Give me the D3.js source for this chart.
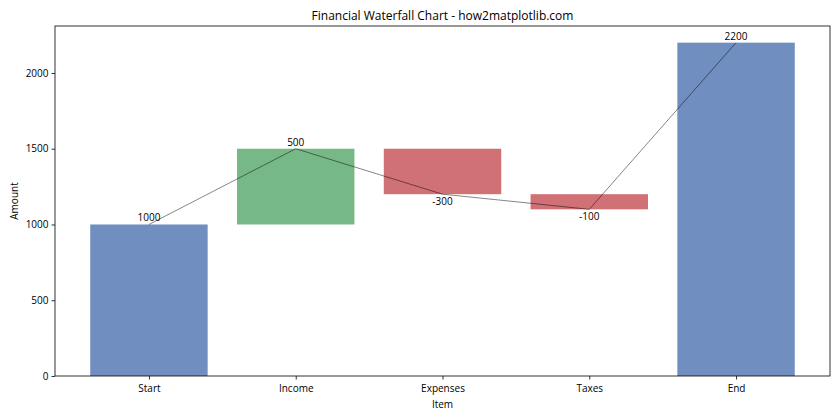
<!DOCTYPE html>
<html><head><meta charset="utf-8">
<script src="https://cdn.jsdelivr.net/npm/d3@7"></script>
<style>body{margin:0;background:#fff;} text{font-family:"Open Sans","Noto Sans",sans-serif;fill:#000;}</style>
</head><body>
<svg id="c" width="840" height="420"></svg>
<script>
const categories = ["Start","Income","Expenses","Taxes","End"];
const values = [1000, 500, -300, -100, 2200];
const bottoms = [0, 1000, 1200, 1100, 0];
const tops = [1000, 1500, 1500, 1200, 2200];
const cumulative = [1000, 1500, 1200, 1100, 2200];
const kinds = ["total","up","down","down","total"];
const yTicks = [0, 500, 1000, 1500, 2000];

const colors = {total:"#708ec0", up:"#77b986", down:"#d07175"};
const svg = d3.select("#c");
const L=55, R=830, T=26, B=376;
const x = d3.scaleLinear().domain([-0.64, 4.64]).range([L, R]);
const y = d3.scaleLinear().domain([0, 2310]).range([B, T]);
const bw = x(0.8) - x(0);

svg.append("g").selectAll("rect").data(categories).join("rect")
  .attr("x", (d,i)=>x(i)-bw/2).attr("width", bw)
  .attr("y", (d,i)=>y(tops[i])).attr("height", (d,i)=>y(bottoms[i])-y(tops[i]))
  .attr("fill", (d,i)=>colors[kinds[i]]);

const line = d3.line().x((d,i)=>x(i)).y(d=>y(d));
svg.append("path").datum(cumulative).attr("d", line)
  .attr("fill","none").attr("stroke","#000").attr("stroke-width",0.6).attr("stroke-opacity",0.8);

svg.append("g").selectAll("text").data(values).join("text")
  .attr("x",(d,i)=>x(i)).attr("y",(d,i)=> d>=0 ? y(cumulative[i])-3 : y(cumulative[i])+11)
  .attr("text-anchor","middle").attr("font-size",10).text(d=>d);

const yAxis = d3.axisLeft(y).tickValues(yTicks).tickFormat(d3.format("d")).tickSize(3.5).tickPadding(3);
const gy = svg.append("g").attr("transform",`translate(${L},0)`).call(yAxis);
const xAxis = d3.axisBottom(x).tickValues(d3.range(categories.length)).tickFormat(i=>categories[i]).tickSize(3.5).tickPadding(5);
const gx = svg.append("g").attr("transform",`translate(0,${B})`).call(xAxis);
[gx,gy].forEach(g=>{g.select(".domain").remove(); g.selectAll("line").attr("stroke","#000").attr("stroke-width",0.8);
  g.selectAll("text").attr("font-size",10).attr("font-family","'Open Sans','Noto Sans',sans-serif").attr("fill","#000");});

svg.append("rect").attr("x",L).attr("y",T).attr("width",R-L).attr("height",B-T)
  .attr("fill","none").attr("stroke","#000").attr("stroke-width",0.8);

svg.append("text").attr("x",(L+R)/2).attr("y",20).attr("text-anchor","middle").attr("font-size",12)
  .text("Financial Waterfall Chart - how2matplotlib.com");
svg.append("text").attr("x",(L+R)/2).attr("y",408).attr("text-anchor","middle").attr("font-size",10).text("Item");
svg.append("text").attr("transform",`translate(18,${(T+B)/2}) rotate(-90)`).attr("text-anchor","middle").attr("font-size",10).text("Amount");
</script>
</body></html>
